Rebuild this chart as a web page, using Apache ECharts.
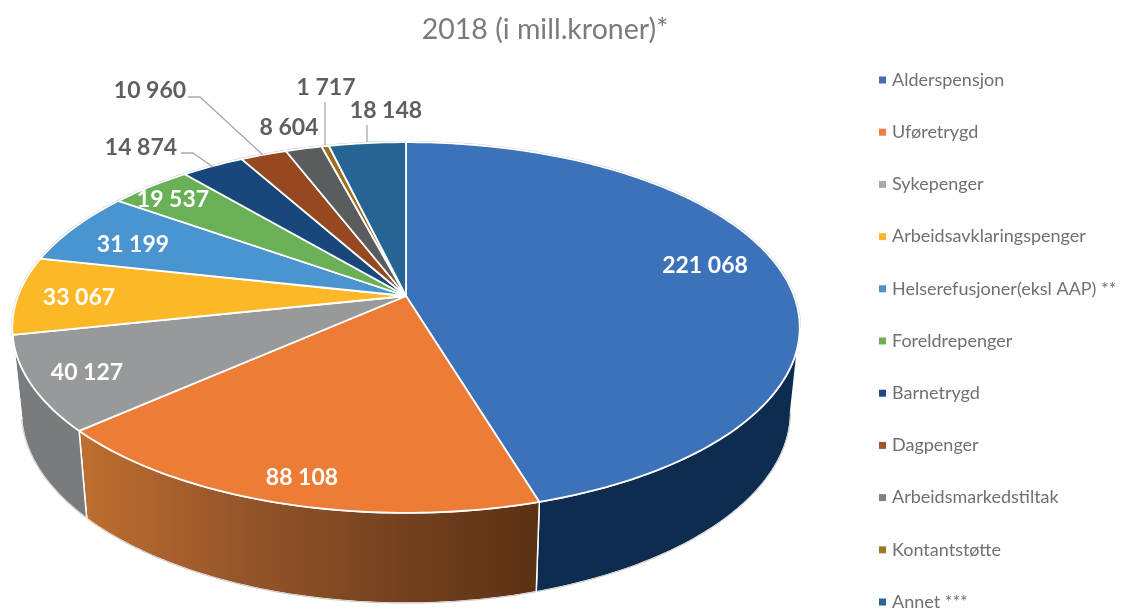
<!DOCTYPE html>
<html>
<head>
<meta charset="utf-8">
<title>2018 (i mill.kroner)*</title>
<script src="https://cdn.jsdelivr.net/npm/echarts@6/dist/echarts.min.js"></script>
<style>
html,body{margin:0;padding:0;background:#fff;}
#chart{width:1121px;height:609px;}
</style>
</head>
<body>
<div id="chart"></div>
<script>
var categories = ['Alderspensjon','Uføretrygd','Sykepenger','Arbeidsavklaringspenger','Helserefusjoner(eksl AAP) **','Foreldrepenger','Barnetrygd','Dagpenger','Arbeidsmarkedstiltak','Kontantstøtte','Annet ***'];
var values = [221068,88108,40127,33067,31199,19537,14874,10960,8604,1717,18148];
var colors = ['#3c72b9','#ed7d36','#97999a','#fdb827','#4a94d0','#69b056','#17477b','#964820','#595d5e','#9a6f1e','#256493'];
var legendColors = ['#3f70b5','#ef7f3f','#a8a8a8','#fdb827','#4a94d0','#69b056','#1c4a7c','#a4532a','#808080','#9a7a28','#2a6698'];

// label centres and leader lines, in page pixels
var labelSpots = [[705,266],[302,478],[87,373],[79,298],[133,245],[173,200],[141,148],[150,91],[289,128],[326,88],[386,111]];
var labelDark = [false,false,false,false,false,false,true,true,true,true,true];
var leaders = {
    6:[[181,153],[193,153],[213,167]],
    7:[[188,97],[200,97],[263,155]],
    9:[[325,102],[325,145]],
    10:[[367,125],[367,142]]
};

var total = values.reduce(function(a,b){return a+b;},0);

// tilted disc: perspective squeeze of a circle, k is the foreshortening
var k = 0.17;
var topFace = {cx:406,cy:296,a:388,b:180};
var baseFace = {cx:406,cy:379,a:379,b:186};
var frontFrom = 100, frontTo = 258;  // degrees of the rim where the wall shows

function project(face,deg){
    var t = deg*Math.PI/180, X = Math.sin(t), Y = Math.cos(t), w = 1+k*Y;
    return [face.cx+face.a*X/w, face.cy-face.b*Y/w];
}
function arc(face,from,to){
    var pts = [], n = Math.max(2,Math.ceil(Math.abs(to-from)));
    for(var i=0;i<=n;i++){
        pts.push(project(face,from+(to-from)*i/n));
    }
    return pts;
}
function wallFill(i){
    if(i==1){
        return new echarts.graphic.LinearGradient(0,0,1,0,[
            {offset:0,color:'#bf6f30'},{offset:0.37,color:'#94542a'},{offset:0.7,color:'#74411f'},{offset:1,color:'#5a3113'}
        ]);
    }
    if(i==2){return '#797c7e';}
    return '#0e2c4f';
}
function formatValue(v){
    return String(v).replace(/\B(?=(\d{3})+$)/g,' ');
}

function renderSlice(params,api){
    var i = params.seriesIndex, before = 0;
    for(var j=0;j<i;j++){before += values[j];}
    var start = before/total*360, end = (before+api.value(0))/total*360;
    var children = [];

    var wFrom = Math.max(start,frontFrom), wTo = Math.min(end,frontTo);
    if(wFrom<wTo){
        children.push({
            type:'polygon',
            shape:{points:arc(topFace,wFrom,wTo).concat(arc(baseFace,wTo,wFrom))},
            style:{fill:wallFill(i),stroke:'#fff',lineWidth:1.5}
        });
        children.push({
            type:'polyline',
            shape:{points:arc(baseFace,wFrom,wTo)},
            style:{fill:null,stroke:'#c9c9c9',lineWidth:1}
        });
    }
    if(start<frontFrom){
        children.push({
            type:'polyline',
            shape:{points:arc(topFace,start,Math.min(end,frontFrom))},
            style:{fill:null,stroke:'#c4c4c4',lineWidth:2.5}
        });
    }
    if(end>frontTo){
        children.push({
            type:'polyline',
            shape:{points:arc(topFace,Math.max(start,frontTo),end)},
            style:{fill:null,stroke:'#c4c4c4',lineWidth:2.5}
        });
    }
    children.push({
        type:'polygon',
        shape:{points:[[topFace.cx,topFace.cy]].concat(arc(topFace,start,end))},
        style:{fill:colors[i],stroke:'#fff',lineWidth:1.8,lineJoin:'round'}
    });
    if(leaders[i]){
        children.push({
            type:'polyline',
            shape:{points:leaders[i]},
            style:{fill:null,stroke:'#a9a9a9',lineWidth:1.3}
        });
    }
    children.push({
        type:'text',
        x:labelSpots[i][0],
        y:labelSpots[i][1],
        style:{
            text:formatValue(api.value(0)),
            fill:labelDark[i]?'#5f5f5f':'#fff',
            font:'bold 23px Lato',
            align:'center',
            verticalAlign:'middle'
        }
    });
    return {type:'group',children:children};
}

var seriesList = categories.map(function(name,i){
    return {
        name:name,
        type:'custom',
        coordinateSystem:'none',
        renderItem:renderSlice,
        itemStyle:{color:legendColors[i]},
        data:[[values[i]]]
    };
});

var chart = echarts.init(document.getElementById('chart'));
chart.setOption({
    animation:false,
    title:{
        text:'2018 (i mill.kroner)*',
        left:540,
        top:10,
        textAlign:'center',
        textStyle:{fontFamily:'Lato',fontSize:28.5,fontWeight:'normal',color:'#7b7b7b'}
    },
    legend:{
        orient:'vertical',
        left:879,
        top:70,
        height:560,
        padding:0,
        itemWidth:7,
        itemHeight:7,
        itemGap:32.2,
        icon:'rect',
        data:categories,
        textStyle:{fontFamily:'Lato',fontSize:18,color:'#707070',lineHeight:20,padding:[0,0,0,1]}
    },
    series:seriesList
});
</script>
</body>
</html>
